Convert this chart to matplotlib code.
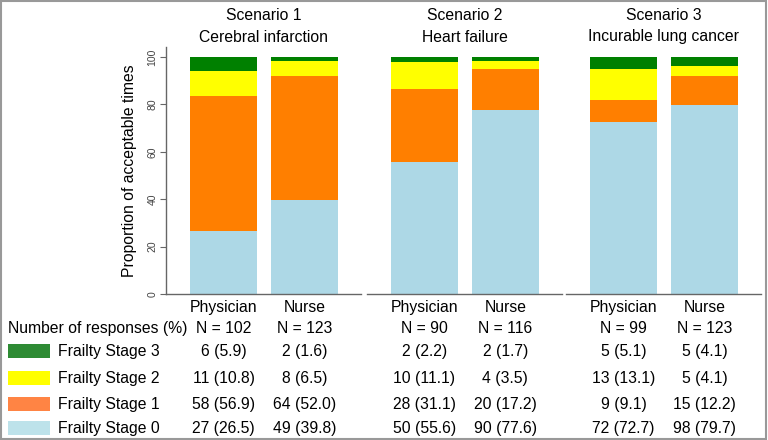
import matplotlib
matplotlib.use("Agg")
import matplotlib.pyplot as plt
from matplotlib.patches import Rectangle
from matplotlib.transforms import blended_transform_factory
import numpy as np

plt.rcParams['font.family'] = ['Liberation Sans', 'DejaVu Sans']

scenarios = ["Scenario 1", "Scenario 2", "Scenario 3"]
conditions = ["Cerebral infarction", "Heart failure", "Incurable lung cancer"]
groups = ["Physician", "Nurse"]
n_total = [[102, 123], [90, 116], [99, 123]]
stage_names = ["Frailty Stage 0", "Frailty Stage 1", "Frailty Stage 2", "Frailty Stage 3"]
# counts and percentages per scenario [physician, nurse]
stage0_n = [[27, 49], [50, 90], [72, 98]]
stage0_p = [[26.5, 39.8], [55.6, 77.6], [72.7, 79.7]]
stage1_n = [[58, 64], [28, 20], [9, 15]]
stage1_p = [[56.9, 52.0], [31.1, 17.2], [9.1, 12.2]]
stage2_n = [[11, 8], [10, 4], [13, 5]]
stage2_p = [[10.8, 6.5], [11.1, 3.5], [13.1, 4.1]]
stage3_n = [[6, 2], [2, 2], [5, 5]]
stage3_p = [[5.9, 1.6], [2.2, 1.7], [5.1, 4.1]]

bar_colors = ["#ADD8E6", "#FF7F00", "#FFFF00", "#008000"]
legend_colors = ["#BDE2EA", "#FF8444", "#FFFF00", "#2E8B34"]

W, H = 768, 440
fig = plt.figure(figsize=(W / 100, H / 100), dpi=100)

def fx(px):
    return px / W

def fy(py):
    return 1 - py / H

panel_left = [166, 367, 566]
panel_w = 195
ax_top, ax_bot = 47, 294
ymax = 100 * (ax_bot - ax_top) / (ax_bot - 57)

counts = [stage0_n, stage1_n, stage2_n, stage3_n]
pcts = [stage0_p, stage1_p, stage2_p, stage3_p]

row_y = {"group": 307, "N": 328, 3: 351, 2: 378, 1: 404, 0: 428}
fs = 11.3

axes = []
for i in range(3):
    ax = fig.add_axes([fx(panel_left[i]), fy(ax_bot), fx(panel_w), (ax_bot - ax_top) / H])
    axes.append(ax)
    x = np.arange(len(groups))
    bottom = np.zeros(len(groups))
    for s in range(4):
        vals = np.array(pcts[s][i])
        ax.bar(x, vals, bottom=bottom, width=0.834, color=bar_colors[s], edgecolor='none')
        bottom += vals
    ax.set_xlim(-0.71, 1.70)
    ax.set_ylim(0, ymax)
    ax.set_xticks([])
    for sp in ["top", "right"]:
        ax.spines[sp].set_visible(False)
    ax.spines["bottom"].set_color("#666666")
    ax.spines["bottom"].set_linewidth(1.0)
    if i == 0:
        ax.spines["left"].set_color("#666666")
        ax.spines["left"].set_linewidth(1.0)
        ax.set_yticks([0, 20, 40, 60, 80, 100])
        ax.set_yticklabels(["0", "20", "40", "60", "80", "100"], rotation=90,
                           va="center", fontsize=7.5, color="#444444")
        ax.tick_params(axis="y", length=4, color="#666666", pad=2)
        ax.set_ylabel("Proportion of acceptable times", fontsize=fs, labelpad=8)
    else:
        ax.spines["left"].set_visible(False)
        ax.set_yticks([])

    tr = blended_transform_factory(ax.transData, fig.transFigure)
    xc = 0.5
    ax.text(xc, fy(15), scenarios[i], transform=tr, ha="center", va="center", fontsize=fs)
    ax.text(xc, fy(37), conditions[i], transform=tr, ha="center", va="center", fontsize=fs)
    for g in range(len(groups)):
        ax.text(g, fy(row_y["group"]), groups[g], transform=tr, ha="center", va="center", fontsize=fs)
        ax.text(g, fy(row_y["N"]), f"N = {n_total[i][g]}", transform=tr, ha="center", va="center", fontsize=fs)
        for s in range(4):
            ax.text(g, fy(row_y[s]), f"{counts[s][i][g]} ({pcts[s][i][g]:.1f})",
                    transform=tr, ha="center", va="center", fontsize=fs)

fig.text(fx(8), fy(row_y["N"]), "Number of responses (%)", ha="left", va="center", fontsize=fs)
for s in range(4):
    yc = row_y[s]
    fig.patches.append(Rectangle((fx(8), fy(yc + 7)), fx(42), 14 / H,
                                 transform=fig.transFigure, facecolor=legend_colors[s],
                                 edgecolor="none"))
    fig.text(fx(58), fy(yc), stage_names[s], ha="left", va="center", fontsize=fs)

fig.patches.append(Rectangle((0.001, 0.002), 0.997, 0.996, transform=fig.transFigure,
                             fill=False, edgecolor="#999999", linewidth=1.5))

fig.savefig("out.png", dpi=100, facecolor="white")
